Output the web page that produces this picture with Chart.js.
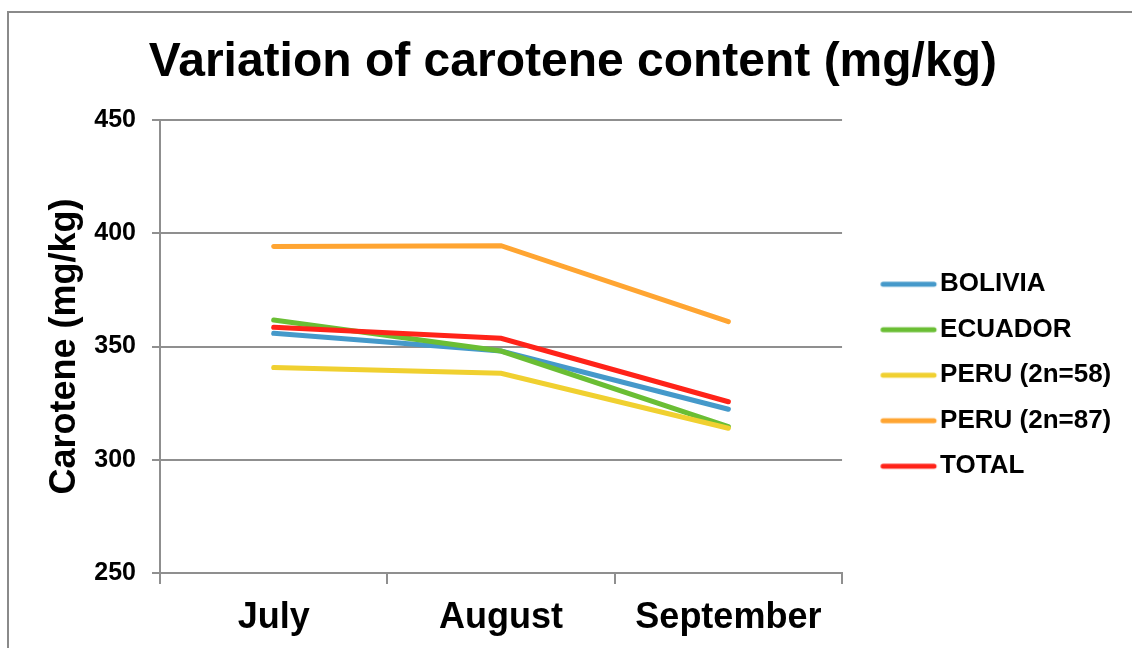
<!DOCTYPE html>
<html><head><meta charset="utf-8">
<script src="https://cdn.jsdelivr.net/npm/chart.js@4/dist/chart.umd.min.js"></script>
<style>html,body{margin:0;padding:0;background:#fff;overflow:hidden}#wrap{position:relative;width:1132px;height:648px}</style>
</head><body><div id="wrap"><canvas id="c" width="1132" height="648"></canvas></div>
<script>
const categories = ['July', 'August', 'September'];
const seriesNames = ['BOLIVIA', 'ECUADOR', 'PERU (2n=58)', 'PERU (2n=87)', 'TOTAL'];
const bolivia = [355.8, 348.0, 322.3];
const ecuador = [361.7, 348.0, 314.6];
const peru58 = [340.7, 338.2, 313.9];
const peru87 = [394.1, 394.5, 361.0];
const total = [358.5, 353.6, 325.6];
const yTicks = [250, 300, 350, 400, 450];
const chartTitle = 'Variation of carotene content (mg/kg)';
const yTitle = 'Carotene (mg/kg)';

const colors = ['#4599CA', '#6ABE34', '#F0D030', '#FFA532', '#FF2319'];
const seriesValues = [bolivia, ecuador, peru58, peru87, total];

const FONT = '"Liberation Sans", Arial, sans-serif';
const GRID = '#8f8f8f';

function legendImage(color) {
  const cv = document.createElement('canvas');
  cv.width = 90; cv.height = 10;
  const g = cv.getContext('2d');
  g.strokeStyle = color; g.lineWidth = 5; g.lineCap = 'round';
  g.beginPath(); g.moveTo(33.75, 5); g.lineTo(84.75, 5); g.stroke();
  return cv;
}

const frame = {
  id: 'frame',
  beforeDraw(chart) {
    const ctx = chart.ctx;
    ctx.save();
    ctx.fillStyle = '#fff';
    ctx.fillRect(0, 0, chart.width, chart.height);
    ctx.strokeStyle = '#8a8a8a';
    ctx.lineWidth = 2;
    ctx.strokeRect(8, 12, 2000, 2000);
    ctx.restore();
  }
};

new Chart(document.getElementById('c'), {
  type: 'line',
  data: {
    labels: categories,
    datasets: seriesNames.map((name, i) => ({
      label: name,
      data: seriesValues[i],
      borderColor: colors[i],
      backgroundColor: colors[i],
      borderWidth: 5,
      borderCapStyle: 'round',
      pointRadius: 0,
      pointHoverRadius: 0,
      pointStyle: legendImage(colors[i]),
      fill: false,
      tension: 0,
      order: seriesNames.length - 1 - i
    }))
  },
  options: {
    responsive: false,
    animation: false,
    devicePixelRatio: 1,
    layout: { padding: { left: 34.6, right: 20.8, top: 33.5, bottom: 0 } },
    plugins: {
      title: {
        display: true, text: chartTitle, color: '#000',
        font: { family: FONT, size: 48, weight: 'bold' },
        padding: { top: 0, bottom: 28.9 }
      },
      legend: {
        position: 'right', align: 'start',
        title: { display: true, text: ' ', font: { size: 10 }, padding: { top: 206.2, bottom: 0 } },
        labels: {
          usePointStyle: true, pointStyleWidth: 65.5,
          padding: 19.5, color: '#000',
          font: { family: FONT, size: 26, weight: 'bold' },
          sort: (a, b) => a.datasetIndex - b.datasetIndex
        }
      },
      tooltip: { enabled: false }
    },
    scales: {
      x: {
        type: 'category', offset: true,
        grid: { drawOnChartArea: false, drawTicks: true, tickLength: 11, color: GRID, lineWidth: 2, offset: true },
        border: { display: true, color: GRID, width: 2 },
        ticks: { color: '#000', font: { family: FONT, size: 36, weight: 'bold' }, padding: 12, maxRotation: 0 },
        afterFit(s) { s.height = 75; }
      },
      y: {
        min: 250, max: 450,
        afterBuildTicks(s) { s.ticks = yTicks.map(v => ({ value: v })); },
        grid: { color: GRID, lineWidth: 2, tickLength: 8, drawTicks: true },
        border: { display: true, color: GRID, width: 2 },
        ticks: { color: '#000', font: { family: FONT, size: 25, weight: 'bold' }, padding: 16 },
        title: { display: true, text: yTitle, color: '#000', font: { family: FONT, size: 36, weight: 'bold' }, padding: 8.8 },
        afterFit(s) { s.width = 125.4; }
      }
    }
  },
  plugins: [frame]
});
</script>
</body></html>
